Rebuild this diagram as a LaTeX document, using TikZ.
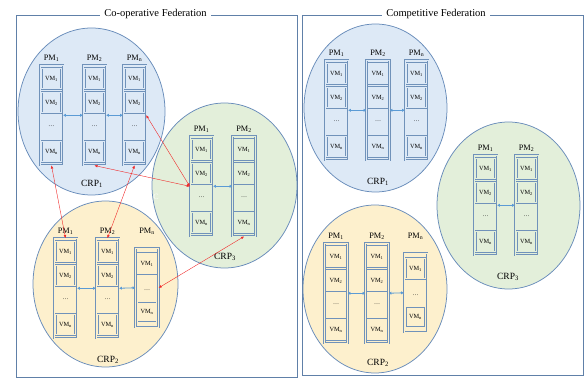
\documentclass[tikz,border=0pt]{standalone}
\usepackage{fontspec}
\setmainfont{Liberation Serif}
\usetikzlibrary{arrows.meta,shapes.geometric}

\definecolor{ringc}{RGB}{104,140,186}
\definecolor{bluef}{RGB}{221,233,246}
\definecolor{greenf}{RGB}{227,239,218}
\definecolor{yellowf}{RGB}{253,240,205}
\definecolor{boxc}{RGB}{112,146,186}
\definecolor{framec}{RGB}{96,128,168}
\definecolor{linkc}{RGB}{91,155,213}
\definecolor{redc}{RGB}{240,40,40}

\tikzset{
  crp/.style={ellipse, draw=ringc, line width=0.75pt, inner sep=0pt},
  pmcol/.style={rectangle, draw=boxc, fill=#1, double=#1, double distance=1pt,
    line width=0.55pt, minimum width=23pt, inner sep=0pt},
  vmbox/.style={rectangle, draw=boxc, fill=#1, double=#1, double distance=0.8pt,
    line width=0.5pt, minimum width=19.5pt, minimum height=20.5pt,
    inner sep=0pt, font=\fontsize{6.3}{7}\selectfont},
  dotl/.style={font=\fontsize{6}{7}\selectfont, inner sep=0pt},
  pmlab/.style={font=\fontsize{8.3}{9}\selectfont, inner sep=0pt},
  crplab/.style={font=\fontsize{9.5}{10}\selectfont, inner sep=0pt},
  fedtitle/.style={fill=white, inner xsep=4pt, inner ysep=1pt,
    font=\fontsize{10.5}{12}\selectfont},
  fedframe/.style={rectangle, draw=framec, line width=0.8pt, inner sep=0pt},
  lan/.style={draw=linkc, line width=0.8pt,
    {Triangle[length=2.6pt,width=2.8pt]}-{Triangle[length=2.6pt,width=2.8pt]}},
  wan/.style={draw=redc, line width=0.4pt,
    {Triangle[length=3pt,width=2.4pt]}-{Triangle[length=3pt,width=2.4pt]}},
}

% physical machine with VM_1, VM_2, ..., VM_n
% #1 name, #2 centre x, #3 top y, #4 label, #5 fill colour
\newcommand\pmfour[5]{%
  \node[pmcol=#5, minimum height=100pt, anchor=north] (#1) at (#2,#3) {};
  \node[pmlab] (#1l) at (#2,#3-7) {#4};
  \node[vmbox=#5] (#1a) at (#2,#3+13.5) {VM\textsubscript{1}};
  \node[vmbox=#5] (#1b) at (#2,#3+37.5) {VM\textsubscript{2}};
  \node[dotl]  (#1d) at (#2,#3+61.5) {\ldots};
  \node[vmbox=#5] (#1n) at (#2,#3+86.5) {VM\textsubscript{n}};
}
% physical machine with VM_1, ..., VM_n
% #1 name, #2 centre x, #3 top y, #4 label y, #5 label, #6 fill colour
\newcommand\pmthree[6]{%
  \node[pmcol=#6, minimum height=79pt, anchor=north] (#1) at (#2,#3) {};
  \node[pmlab] (#1l) at (#2,#4) {#5};
  \node[vmbox=#6] (#1a) at (#2,#3+15.5) {VM\textsubscript{1}};
  \node[dotl]  (#1d) at (#2,#3+42) {\ldots};
  \node[vmbox=#6] (#1n) at (#2,#3+64) {VM\textsubscript{n}};
}

\begin{document}
\begin{tikzpicture}[x=1pt,y=-1pt]
\useasboundingbox (0,0) rectangle (587,379);

% federation frames
\node[fedframe, minimum width=281pt, minimum height=362pt] (fco) at (156.5,196) {};
\node[fedframe, minimum width=281pt, minimum height=360pt] (fcp) at (442.5,195) {};
\node[fedtitle] (tco) at (155.5,14) {Co-operative Federation};
\node[fedtitle] (tcp) at (436,14) {Competitive Federation};

% ---------------- co-operative federation ----------------
\node[crp, fill=greenf,  minimum width=145pt, minimum height=165pt] (cg) at (224.5,185.5) {};
\node[crp, fill=bluef,   minimum width=147pt, minimum height=167pt] (cb) at (91.5,111.5) {};
\node[crp, fill=yellowf, minimum width=145pt, minimum height=166pt] (cy) at (105.5,284) {};

\pmfour{b1}{51.5}{65}{PM\textsubscript{1}}{bluef}
\pmfour{b2}{94.5}{65}{PM\textsubscript{2}}{bluef}
\pmfour{bn}{134.5}{65}{PM\textsubscript{n}}{bluef}
\draw[lan] (b1.east) -- (b2.west);
\draw[lan] (b2.east) -- (bn.west);
\node[crplab] (cbl) at (92,184) {CRP\textsubscript{1}};

\pmfour{g1}{201.5}{136}{PM\textsubscript{1}}{greenf}
\pmfour{g2}{244}{136}{PM\textsubscript{2}}{greenf}
\draw[lan] (g1.east) -- (g2.west);
\node[crplab] (cgl) at (225,257) {CRP\textsubscript{3}};
\node[text=white, font=\fontsize{8}{9}\selectfont, inner sep=0pt] (cgc) at (156,196.5) {C};

\pmfour{y1}{65.5}{238}{PM\textsubscript{1}}{yellowf}
\pmfour{y2}{107.5}{238}{PM\textsubscript{2}}{yellowf}
\pmthree{yn}{147}{248}{231}{PM\textsubscript{n}}{yellowf}
\draw[lan] (y1.east) -- (y2.west);
\draw[lan] (y2.east) -- (yn.west);
\node[crplab] (cyl) at (108,360) {CRP\textsubscript{2}};

% resource sharing between providers
\draw[wan] (g1.west) -- (bn.east);
\draw[wan] (g1.west) -- (b2.south);
\draw[wan] (b1.south) -- (y1.north);
\draw[wan] (bn.south) -- (y2.north);
\draw[wan] (g2.south) -- (yn.east);

% ---------------- competitive federation ----------------
\node[crp, fill=bluef,   minimum width=143pt, minimum height=168pt] (kb) at (375.5,108) {};
\node[crp, fill=greenf,  minimum width=143pt, minimum height=167pt] (kg) at (508.5,205.5) {};
\node[crp, fill=yellowf, minimum width=144pt, minimum height=168pt] (ky) at (375,289) {};

\pmfour{p1}{336.5}{60}{PM\textsubscript{1}}{bluef}
\pmfour{p2}{378}{60}{PM\textsubscript{2}}{bluef}
\pmfour{pn}{416.5}{60}{PM\textsubscript{n}}{bluef}
\draw[lan] (p1.east) -- (p2.west);
\draw[lan] (p2.east) -- (pn.west);
\node[crplab] (kbl) at (378,182) {CRP\textsubscript{1}};

\pmfour{q1}{485.5}{155}{PM\textsubscript{1}}{greenf}
\pmfour{q2}{526.5}{155}{PM\textsubscript{2}}{greenf}
\draw[lan] (q1.east) -- (q2.west);
\node[crplab] (kgl) at (508,277) {CRP\textsubscript{3}};

\pmfour{r1}{336}{243}{PM\textsubscript{1}}{yellowf}
\pmfour{r2}{377}{243}{PM\textsubscript{2}}{yellowf}
\pmthree{rn}{415.5}{253}{236}{PM\textsubscript{n}}{yellowf}
\draw[lan] (r1.east) -- (r2.west);
\draw[lan] (r2.east) -- (rn.west);
\node[crplab] (kyl) at (378,363) {CRP\textsubscript{2}};

\end{tikzpicture}
\end{document}
